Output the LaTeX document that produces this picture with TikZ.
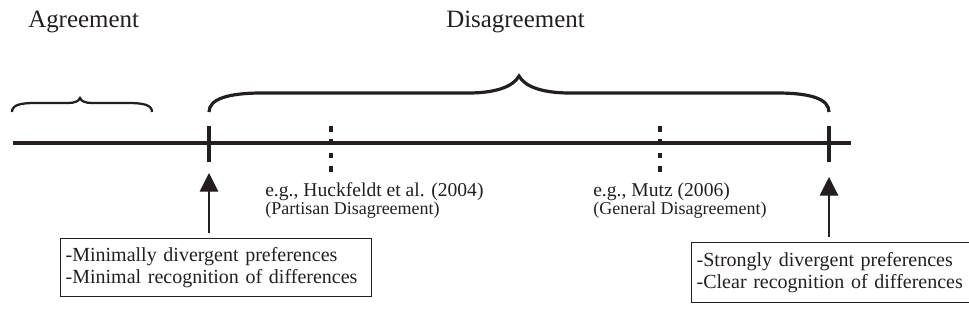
\documentclass[tikz,border=0pt]{standalone}
\usepackage{fontspec}
\setmainfont{Liberation Serif}
\usetikzlibrary{arrows.meta}
\definecolor{ink}{RGB}{35,31,32}
\begin{document}
\begin{tikzpicture}[x=0.75pt,y=-0.75pt,
  lbl/.style={inner sep=0pt, anchor=base west, text=ink},
  head/.style={lbl, font=\fontsize{18.7pt}{22pt}\selectfont},
  cite/.style={lbl, font=\fontsize{14.7pt}{17pt}\selectfont},
  sub/.style={lbl, font=\fontsize{13.5pt}{16pt}\selectfont},
  infobox/.style={draw=ink, line width=1pt, anchor=north west, align=left, inner xsep=3.75pt, inner ysep=0pt, text=ink, font=\fontsize{15pt}{16.5pt}\selectfont},
  axis/.style={line width=2.5pt, draw=ink},
  soltick/.style={line width=3pt, draw=ink},
  dashtick/.style={line width=3.2pt, draw=ink, dash pattern=on 4.275pt off 5.7pt},
  brace/.style={line width=2.4pt, draw=ink},
  smallbrace/.style={line width=1.7pt, draw=ink},
  arr/.style={line width=0.8pt, draw=ink, fill=ink, -{Triangle[length=14pt,width=14pt]}}
]
\useasboundingbox (0,0) rectangle (969,333);

% headings
\node[head] (agr) at (28,27) {Agreement};
\node[head] (dis) at (446,27) {Disagreement};

% braces
\draw[smallbrace] (12,112) .. controls (12,105) and (20,103) .. (35,103) -- (68,103)
  .. controls (75,103) and (79,101) .. (80,98)
  .. controls (81,101) and (85,103) .. (92,103) -- (128,103)
  .. controls (144,103) and (152,105) .. (152,112);
\draw[brace] (209,112) .. controls (209,99) and (228,93) .. (262,93) -- (468,93)
  .. controls (495,93) and (513,87) .. (519,76)
  .. controls (525,87) and (543,93) .. (570,93) -- (777,93)
  .. controls (811,93) and (829,99) .. (829,112);

% axis
\draw[axis] (13,143) -- (851,143);
\coordinate (t1) at (209,143);
\coordinate (t2) at (829,143);
\draw[soltick] (209,126) -- (209,162);
\draw[soltick] (829,126) -- (829,162);
\draw[dashtick] (331,126) -- (331,172);
\draw[dashtick] (660,126) -- (660,172);

% citations
\node[cite] (huck) at (265,196) {e.g., Huckfeldt et al. (2004)};
\node[sub] (part) at (265,214.5) {(Partisan Disagreement)};
\node[cite] (mutz) at (593,196) {e.g., Mutz (2006)};
\node[sub] (gen) at (593,214.5) {(General Disagreement)};

% boxes
\node[infobox, text width=225.75pt, minimum height=43.5pt] (lbox) at (60,238)
  {-Minimally divergent preferences\\-Minimal recognition of differences};
\node[infobox, text width=205.5pt, minimum height=45pt] (rbox) at (691,242)
  {-Strongly divergent preferences\\-Clear recognition of differences};

% arrows
\draw[arr] ([yshift=3.75pt]lbox.north -| t1) -- ([yshift=-22.5pt]t1);
\draw[arr] ([yshift=3.75pt]rbox.north -| t2) -- ([yshift=-25.5pt]t2);
\end{tikzpicture}
\end{document}
